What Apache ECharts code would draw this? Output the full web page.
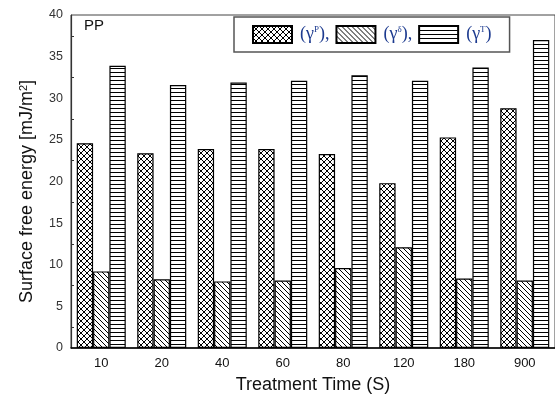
<!DOCTYPE html>
<html>
<head>
<meta charset="utf-8">
<script src="https://cdn.jsdelivr.net/npm/echarts@6/dist/echarts.min.js"></script>
<style>html,body{margin:0;padding:0;background:#fff}#c{width:555px;height:400px}</style>
</head>
<body>
<div id="c"></div>
<script>
const categories = ['10','20','40','60','80','120','180','900'];
const gammaP = [24.6, 23.4, 23.9, 23.9, 23.3, 19.8, 25.3, 28.8];
const gammaD = [9.2, 8.25, 8.0, 8.1, 9.6, 12.1, 8.35, 8.1];
const gammaT = [33.9, 31.6, 31.9, 32.1, 32.75, 32.1, 33.7, 37.0];
const yTicks = [0, 5, 10, 15, 20, 25, 30, 35, 40];

function makePattern(type) {
  const c = document.createElement('canvas');
  const ctx = c.getContext('2d');
  if (type === 'cross') {
    c.width = 6; c.height = 6;
    ctx.fillStyle = '#fff'; ctx.fillRect(0, 0, 6, 6);
    ctx.strokeStyle = '#000'; ctx.lineWidth = 1;
    ctx.beginPath();
    ctx.moveTo(0, 0); ctx.lineTo(6, 6);
    ctx.moveTo(6, 0); ctx.lineTo(0, 6);
    ctx.stroke();
  } else if (type === 'diag') {
    c.width = 5; c.height = 5;
    ctx.fillStyle = '#fff'; ctx.fillRect(0, 0, 5, 5);
    ctx.strokeStyle = '#000'; ctx.lineWidth = 1;
    ctx.beginPath();
    [-5, 0, 5].forEach(o => { ctx.moveTo(o, 0); ctx.lineTo(o + 5, 5); });
    ctx.stroke();
  } else {
    c.width = 4; c.height = 4;
    ctx.fillStyle = '#fff'; ctx.fillRect(0, 0, 4, 4);
    ctx.fillStyle = '#000'; ctx.fillRect(0, 0, 4, 1);
  }
  return { image: c, repeat: 'repeat' };
}

const chart = echarts.init(document.getElementById('c'), null, { renderer: 'canvas' });
const font = 'Arial, "Liberation Sans", sans-serif';
const serif = '"Liberation Serif", "Times New Roman", serif';
function mkSeries(name, data, pat) {
  return {
    name: name, type: 'bar', data: data,
    barGap: '0%', barCategoryGap: '19%',
    itemStyle: { color: makePattern(pat), borderColor: '#000', borderWidth: 1.2 },
    emphasis: { disabled: true }, animation: false
  };
}
chart.setOption({
  animation: false,
  grid: { left: 71, top: 15, width: 486, bottom: 52, show: true, borderColor: '#444', borderWidth: 1 },
  legend: {
    left: 234, top: 17, padding: [8, 18, 8, 18],
    itemWidth: 39, itemHeight: 17, itemGap: 6,
    icon: 'rect',
    borderColor: '#555', borderWidth: 1.5,
    selectedMode: false,
    data: ['p', 'd', 't'],
    formatter: function (n) {
      if (n === 'p') return '(γ{s|P}),';
      if (n === 'd') return '(γ{s|δ}),';
      return '(γ{s|T})';
    },
    textStyle: {
      fontFamily: serif, fontSize: 18, color: '#1c3a8f',
      padding: [0, 0, 0, 3],
      rich: { s: { fontSize: 9, verticalAlign: 'top', padding: [0, 0, 10, 0], color: '#1c3a8f', fontFamily: serif } }
    }
  },
  xAxis: {
    type: 'category', data: categories,
    name: 'Treatment Time (S)', nameLocation: 'middle', nameGap: 28,
    nameTextStyle: { fontFamily: font, fontSize: 18, color: '#111' },
    axisLine: { lineStyle: { color: '#000', width: 1.5 } },
    axisTick: { inside: true, length: 4, lineStyle: { color: '#000' } },
    axisLabel: { fontFamily: font, fontSize: 13, color: '#111', margin: 9 }
  },
  yAxis: {
    type: 'value', min: 0, max: 40, interval: 5,
    name: 'Surface free energy [mJ/m{s|2}]', nameLocation: 'middle', nameGap: 34,
    nameTextStyle: { fontFamily: font, fontSize: 18, color: '#111', padding: [0, 20, 0, 0],
      rich: { s: { fontFamily: font, fontSize: 11, verticalAlign: 'top', padding: [0, 0, 8, 0], color: '#111' } } },
    axisLine: { show: true, lineStyle: { color: '#333', width: 1.2 } },
    axisTick: { inside: true, length: 5, lineStyle: { color: '#333' } },
    minorTick: { show: true, splitNumber: 2, length: 3, lineStyle: { color: '#333' } },
    splitLine: { show: false },
    axisLabel: { fontFamily: font, fontSize: 12.5, color: '#333', margin: 8,
      formatter: function (v) { return yTicks.indexOf(v) >= 0 ? String(v) : ''; } }
  },
  graphic: [{ type: 'text', left: 84, top: 18, style: { text: 'PP', font: '15px ' + font, fill: '#111' } }],
  series: [mkSeries('p', gammaP, 'cross'), mkSeries('d', gammaD, 'diag'), mkSeries('t', gammaT, 'horiz')]
});
</script>
</body>
</html>
